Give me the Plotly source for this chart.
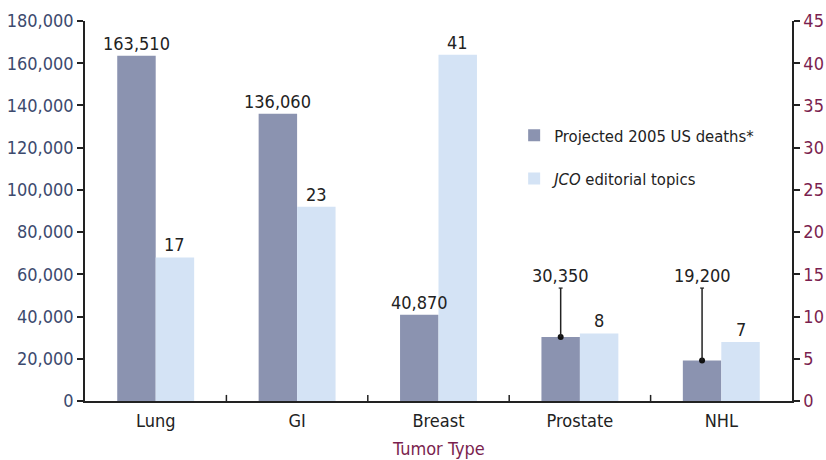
import plotly.graph_objects as go

# Data
tumor_types = ["Lung", "GI", "Breast", "Prostate", "NHL"]
us_deaths = [163510, 136060, 40870, 30350, 19200]
jco_topics = [17, 23, 41, 8, 7]
left_ticks = [0, 20000, 40000, 60000, 80000, 100000, 120000, 140000, 160000, 180000]
right_ticks = [0, 5, 10, 15, 20, 25, 30, 35, 40, 45]

# Death labels that sit on a raised leader line (category -> label height)
leader_labels = {"Prostate": 53500, "NHL": 53500}

FONT = "Liberation Sans Narrow, DejaVu Sans Condensed, Arial Narrow, sans-serif"
DARK = "#8b93b0"
LIGHT = "#d4e3f5"
NAVY = "#3c4a6e"
MAROON = "#7b1f4f"
AXIS = "#222222"
W = 0.272

fig = go.Figure()
fig.add_trace(go.Bar(
    x=list(range(len(tumor_types))), y=us_deaths, width=W, offset=-W,
    marker=dict(color=DARK, line=dict(width=0)),
    name="Projected 2005 US deaths*", legendgroup="a", yaxis="y",
))
fig.add_trace(go.Bar(
    x=list(range(len(tumor_types))), y=jco_topics, width=W, offset=0,
    marker=dict(color=LIGHT, line=dict(width=0)),
    name="<i>JCO</i> editorial topics", legendgroup="b", yaxis="y2",
))

annotations = []
shapes = []
dot_x, dot_y = [], []
for i, cat in enumerate(tumor_types):
    xd = i - W / 2
    if cat in leader_labels:
        top = leader_labels[cat]
        shapes.append(dict(type="line", xref="x", yref="y", x0=xd, x1=xd,
                           y0=us_deaths[i], y1=top, line=dict(color=AXIS, width=1.5)))
        shapes.append(dict(type="line", xref="x", yref="y", x0=xd - 0.014, x1=xd + 0.014,
                           y0=top, y1=top, line=dict(color=AXIS, width=1.2)))
        dot_x.append(xd)
        dot_y.append(us_deaths[i])
        label_y = top
    else:
        label_y = us_deaths[i]
    annotations.append(dict(x=xd, y=label_y, xref="x", yref="y", text=f"{us_deaths[i]:,}",
                            showarrow=False, yanchor="bottom", yshift=0,
                            font=dict(family=FONT, size=18, color="#222")))
    annotations.append(dict(x=i + W / 2, y=jco_topics[i], xref="x", yref="y2",
                            text=str(jco_topics[i]), showarrow=False, yanchor="bottom",
                            yshift=0, font=dict(family=FONT, size=18, color="#222")))

fig.add_trace(go.Scatter(x=dot_x, y=dot_y, mode="markers", yaxis="y", showlegend=False,
                         marker=dict(color="#111", size=6), hoverinfo="skip"))

annotations.append(dict(x=0.5, y=-0.092, xref="paper", yref="paper", text="Tumor Type",
                        showarrow=False, yanchor="top",
                        font=dict(family=FONT, size=18, color=MAROON)))

fig.update_layout(
    width=826, height=460,
    margin=dict(l=85, r=34, t=21, b=59),
    paper_bgcolor="white", plot_bgcolor="white",
    font=dict(family=FONT, size=18, color="#222"),
    barmode="overlay",
    showlegend=True,
    legend=dict(x=0.607, y=0.745, xanchor="left", yanchor="top",
                font=dict(family=FONT, size=16.5, color="#222"),
                tracegroupgap=19, bgcolor="rgba(0,0,0,0)"),
    xaxis=dict(
        tickmode="array", tickvals=list(range(len(tumor_types))), ticktext=tumor_types,
        range=[-0.5, len(tumor_types) - 0.5], showgrid=False, zeroline=False,
        showline=True, linecolor=AXIS, linewidth=1.5, automargin=False,
        ticklabelstandoff=3,
        tickfont=dict(family=FONT, size=18, color="#222"),
    ),
    yaxis=dict(
        range=[0, 180000], tickvals=left_ticks, ticktext=[f"{v:,}" for v in left_ticks],
        showgrid=False, zeroline=False, showline=True, linecolor=AXIS, linewidth=1.5,
        ticks="outside", ticklen=6, tickcolor=AXIS, tickwidth=1.5, automargin=False,
        tickfont=dict(family=FONT, size=18, color=NAVY),
    ),
    yaxis2=dict(
        range=[0, 45], tickvals=right_ticks, overlaying="y", side="right",
        showgrid=False, zeroline=False, showline=True, linecolor=AXIS, linewidth=1.5,
        ticks="outside", ticklen=6, tickcolor=AXIS, tickwidth=1.5, automargin=False,
        tickfont=dict(family=FONT, size=18, color=MAROON),
    ),
    annotations=annotations,
    shapes=shapes
    + [dict(type="line", xref="x", yref="paper", x0=b, x1=b, y0=0, y1=0.016,
            line=dict(color=AXIS, width=1.5)) for b in [0.5, 1.5, 2.5, 3.5]],
)

fig.write_html("out.html")
